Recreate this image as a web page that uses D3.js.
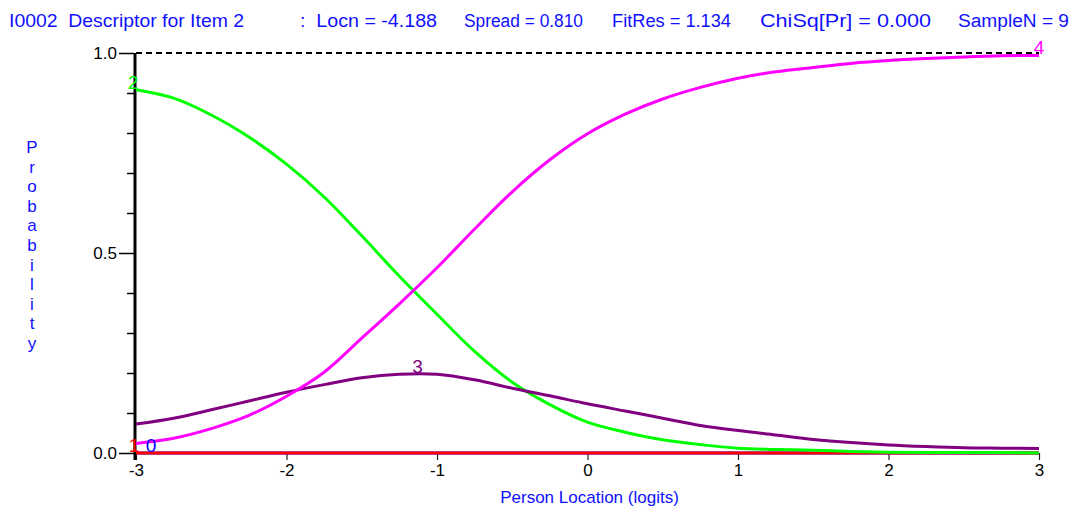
<!DOCTYPE html>
<html><head><meta charset="utf-8">
<script src="https://cdn.jsdelivr.net/npm/d3@7"></script>
<style>html,body{margin:0;padding:0;background:#fff;}svg{display:block;}</style>
</head><body>
<svg id="chart" width="1072" height="509"></svg>
<script>
// ---- data ----
const logits = [-3,-2.75,-2.5,-2.25,-2,-1.75,-1.5,-1.25,-1,-0.75,-0.5,-0.25,0,0.25,0.5,0.75,1,1.25,1.5,1.75,2,2.25,2.5,2.75,3];
const cat0 = [0,0,0,0,0,0,0,0,0,0,0,0,0,0,0,0,0,0,0,0,0,0,0,0,0];
const cat1 = [0,0,0,0,0,0,0,0,0,0,0,0,0,0,0,0,0,0,0,0,0,0,0,0,0];
const cat2 = [0.908,0.887,0.845,0.79,0.722,0.64,0.543,0.442,0.347,0.254,0.177,0.121,0.077,0.052,0.033,0.021,0.012,0.009,0.007,0.004,0.002,0.001,0.001,0.001,0];
const cat3 = [0.0725,0.087,0.108,0.13,0.152,0.171,0.188,0.197,0.197,0.183,0.162,0.143,0.123,0.105,0.087,0.069,0.056,0.045,0.034,0.026,0.02,0.016,0.013,0.012,0.011];
const cat4 = [0.024,0.037,0.061,0.094,0.142,0.202,0.287,0.373,0.463,0.56,0.653,0.733,0.798,0.847,0.885,0.914,0.937,0.953,0.964,0.974,0.981,0.986,0.99,0.993,0.994];
const categoryNames = ["0","1","2","3","4"];
const categoryColors = ["#0000ff","#ff0000","#00ff00","#800080","#ff00ff"];
const xTicks = [-3,-2,-1,0,1,2,3];
const yMajorTicks = [0,0.5,1];
const yMinorTicks = [0.1,0.2,0.3,0.4,0.6,0.7,0.8,0.9];
const headerItems = [
  {text:"I0002  Descriptor for Item 2", x:9, w:235},
  {text:":  Locn = -4.188", x:300, w:137},
  {text:"Spread = 0.810", x:464, w:119},
  {text:"FitRes = 1.134", x:612, w:119},
  {text:"ChiSq[Pr] = 0.000", x:760, w:171},
  {text:"SampleN = 9", x:958, w:111}
];
const xTitle = "Person Location (logits)";
const yTitle = "Probability";

// ---- drawing ----
const svg = d3.select("#chart");
const x = d3.scaleLinear().domain([-3,3]).range([136,1039]);
const y = d3.scaleLinear().domain([0,1]).range([453,53]);
const font = "'Liberation Sans', Arial, sans-serif";

// header
svg.selectAll("text.hdr").data(headerItems).join("text")
  .attr("class","hdr").attr("x",d=>d.x).attr("y",27)
  .attr("textLength",d=>d.w).attr("lengthAdjust","spacingAndGlyphs")
  .attr("font-family",font).attr("font-size",18).attr("fill","#1010ff")
  .style("white-space","pre").text(d=>d.text);

// dashed 1.0 line
svg.append("line").attr("x1",x(-3)).attr("x2",x(3)).attr("y1",y(1)).attr("y2",y(1))
  .attr("stroke","#000").attr("stroke-width",1.8).attr("stroke-dasharray","6,4");

// x axis ticks
const xAxis = d3.axisBottom(x).tickValues(xTicks).tickSize(7).tickPadding(4)
  .tickFormat(d3.format("d"));
const gx = svg.append("g").attr("transform",`translate(0,${y(0)})`).call(xAxis);
gx.select(".domain").remove();
gx.selectAll(".tick line").attr("stroke","#222").attr("stroke-width",1.2);
gx.selectAll(".tick text").attr("font-family",font).attr("font-size",17).attr("fill","#000")
  .text(d=>d<0?"-"+Math.abs(d):d);

// y axis
const yAxis = d3.axisLeft(y).tickValues(yMajorTicks).tickSize(15).tickPadding(2)
  .tickFormat(d3.format(".1f"));
const gy = svg.append("g").attr("transform",`translate(${x(-3)-2},0)`).call(yAxis);
gy.select(".domain").remove();
gy.selectAll(".tick line").attr("stroke","#000").attr("stroke-width",1.5);
gy.selectAll(".tick text").attr("font-family",font).attr("font-size",17).attr("fill","#000");
const gyMinor = svg.append("g").attr("transform",`translate(${x(-3)-2},0)`)
  .call(d3.axisLeft(y).tickValues(yMinorTicks).tickSize(7).tickFormat(""));
gyMinor.select(".domain").remove();
gyMinor.selectAll(".tick line").attr("stroke","#000").attr("stroke-width",1.5);

// y axis line
svg.append("line").attr("x1",x(-3)-1).attr("x2",x(-3)-1).attr("y1",y(1)).attr("y2",y(0)+7)
  .attr("stroke","#000").attr("stroke-width",3);

// curves
const series = [cat0,cat1,cat2,cat3,cat4];
const line = d3.line().x((d,i)=>x(logits[i])).y(d=>y(d)).curve(d3.curveCatmullRom.alpha(0.5));
svg.selectAll("path.curve").data(series).join("path").attr("class","curve")
  .attr("d",d=>line(d)).attr("fill","none")
  .attr("stroke",(d,i)=>categoryColors[i]).attr("stroke-width",3);

// curve labels
const labels = [
  {c:1, lx:-3, dx:-2},
  {c:0, lx:-2.9, dx:0},
  {c:2, lx:-3, dx:-3},
  {c:3, lx:-1.13, dx:0},
  {c:4, lx:3, dx:0}
];
function valAt(arr, v){
  const i = d3.bisectLeft(logits, v);
  if (i<=0) return arr[0];
  if (i>=logits.length) return arr[arr.length-1];
  const t=(v-logits[i-1])/(logits[i]-logits[i-1]);
  return arr[i-1]+t*(arr[i]-arr[i-1]);
}
svg.selectAll("text.clab").data(labels).join("text").attr("class","clab")
  .attr("x",d=>x(d.lx)+d.dx).attr("y",d=>y(valAt(series[d.c],d.lx))-1)
  .attr("text-anchor","middle").attr("font-family",font).attr("font-size",19)
  .attr("fill",d=>categoryColors[d.c]).text(d=>categoryNames[d.c]);

// axis titles
svg.append("text").attr("x",(x(-3)+x(3))/2+2).attr("y",503).attr("text-anchor","middle")
  .attr("font-family",font).attr("font-size",17).attr("fill","#1010ff").text(xTitle);
svg.selectAll("text.ylet").data(yTitle.split("")).join("text").attr("class","ylet")
  .attr("x",32).attr("y",(d,i)=>153+i*19.6).attr("text-anchor","middle")
  .attr("font-family",font).attr("font-size",17).attr("fill","#1010ff").text(d=>d);
</script>
</body></html>
